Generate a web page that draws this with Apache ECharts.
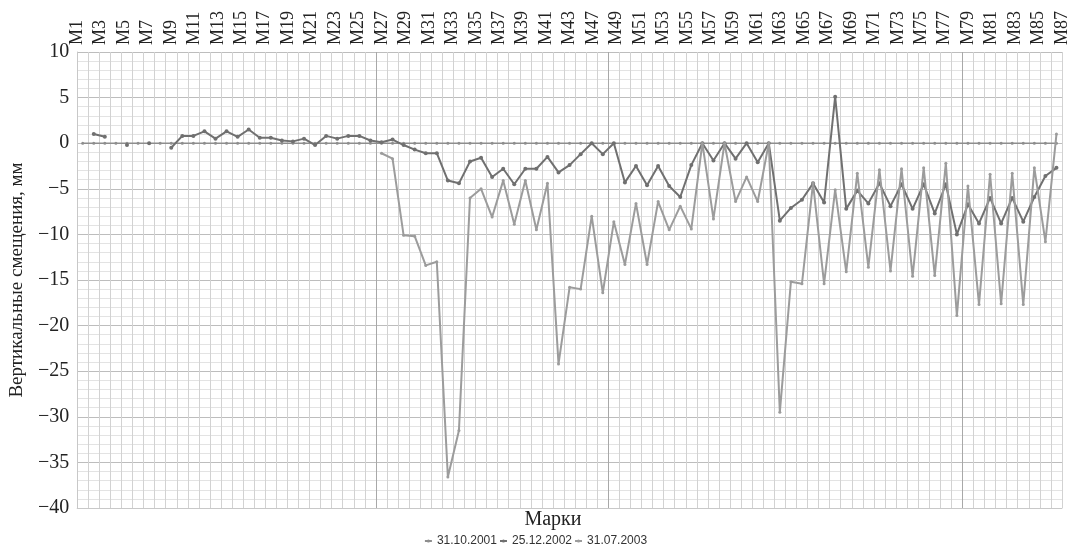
<!DOCTYPE html>
<html>
<head>
<meta charset="utf-8">
<script src="https://cdn.jsdelivr.net/npm/echarts@6/dist/echarts.min.js"></script>
<style>
  html, body { margin: 0; padding: 0; background: #ffffff; }
  #chart { width: 1071px; height: 549px; }
</style>
</head>
<body>
<div id="chart"></div>
<script>
// Mark names printed along the top edge
const tickLabels = [
  'М1','М3','М5','М7','М9','М11','М13','М15','М17','М19','М21','М23','М25','М27',
  'М29','М31','М33','М35','М37','М39','М41','М43','М47','М49','М51','М53','М55',
  'М57','М59','М61','М63','М65','М67','М69','М71','М73','М75','М77','М79','М81',
  'М83','М85','М87'
];

// Measuring points along the profile (sequence numbers)
const pointIds = [
  1,2,3,4,5,6,7,8,9,10,11,12,13,14,15,16,17,18,19,20,21,22,23,24,25,26,27,28,29,30,
  31,32,33,34,35,36,37,38,39,40,41,42,43,44,45,46,47,48,49,50,51,52,53,54,55,56,57,
  58,59,60,61,62,63,64,65,66,67,68,69,70,71,72,73,74,75,76,77,78,79,80,81,82,83,84,
  85,86,87,88,89
];

// Vertical displacements, mm
const s2001 = [
  0,0,0,0,0,0,0,0,0,0,0,0,0,0,0,0,0,0,0,0,0,0,0,0,0,0,0,0,0,0,
  0,0,0,0,0,0,0,0,0,0,0,0,0,0,0,0,0,0,0,0,0,0,0,0,0,0,0,0,0,0,
  0,0,0,0,0,0,0,0,0,0,0,0,0,0,0,0,0,0,0,0,0,0,0,0,0,0,0,0,0
];

const s2002 = [
  null, 1.0, 0.7, null, -0.2, null, 0.0, null, -0.5, 0.8,
  0.8, 1.3, 0.5, 1.3, 0.7, 1.5, 0.6, 0.6, 0.3, 0.2,
  0.5, -0.2, 0.8, 0.5, 0.8, 0.8, 0.3, 0.1, 0.4, -0.2,
  -0.7, -1.1, -1.1, -4.1, -4.4, -2.0, -1.6, -3.7, -2.8, -4.5,
  -2.8, -2.8, -1.5, -3.2, -2.4, -1.2, 0.0, -1.2, 0.0, -4.3,
  -2.5, -4.6, -2.5, -4.7, -5.9, -2.4, 0.0, -1.9, 0.0, -1.7,
  0.0, -2.1, 0.0, -8.5, -7.1, -6.2, -4.4, -6.5, 5.1, -7.2,
  -5.2, -6.6, -4.4, -6.9, -4.5, -7.2, -4.5, -7.7, -4.5, -10.0,
  -6.7, -8.8, -6.0, -8.8, -6.0, -8.6, -5.9, -3.6, -2.7
];

const s2003 = [
  null, null, null, null, null, null, null, null, null, null,
  null, null, null, null, null, null, null, null, null, null,
  null, null, null, null, null, null, null, -1.1, -1.7, -10.1,
  -10.2, -13.4, -13.0, -36.6, -31.5, -6.0, -5.0, -8.1, -4.1, -8.9,
  -4.1, -9.5, -4.4, -24.2, -15.8, -16.0, -8.0, -16.4, -8.6, -13.3,
  -6.6, -13.3, -6.4, -9.5, -6.9, -9.4, 0.0, -8.3, 0.0, -6.4,
  -3.7, -6.4, 0.0, -29.5, -15.2, -15.4, -4.4, -15.4, -5.1, -14.1,
  -3.3, -13.6, -2.9, -14.0, -2.8, -14.6, -2.7, -14.5, -2.2, -18.9,
  -4.7, -17.7, -3.4, -17.6, -3.3, -17.7, -2.7, -10.8, 1.0
];

const seriesNames = ['31.10.2001', '25.12.2002', '31.07.2003'];

// Points after which a darker section line is drawn
const sectionBreaks = [27, 48, 80];

const serif = '"Liberation Serif", "Times New Roman", serif';
const sans = '"Liberation Sans", Arial, sans-serif';

const chart = echarts.init(document.getElementById('chart'), null, { renderer: 'canvas' });

function lineSeries(name, data, color, width, symbolSize, z) {
  return {
    name: name,
    type: 'line',
    xAxisIndex: 1,
    yAxisIndex: 0,
    data: data,
    connectNulls: false,
    showSymbol: true,
    showAllSymbol: true,
    symbol: 'circle',
    symbolSize: symbolSize,
    itemStyle: { color: color },
    lineStyle: { color: color, width: width },
    emphasis: { disabled: true },
    animation: false,
    z: z
  };
}

chart.setOption({
  backgroundColor: '#ffffff',
  animation: false,
  grid: { left: 74, right: 7, top: 52, bottom: 41, containLabel: false },
  legend: {
    bottom: -3,
    left: 'center',
    itemWidth: 7,
    itemHeight: 4,
    itemGap: 2,
    textStyle: { fontFamily: sans, fontSize: 12, color: '#333' },
    data: seriesNames
  },
  xAxis: [
    {
      type: 'category',
      position: 'top',
      data: tickLabels,
      boundaryGap: false,
      axisLine: { show: false },
      axisTick: { show: false },
      splitLine: { show: false },
      axisLabel: {
        interval: 0,
        rotate: 90,
        margin: 7,
        fontFamily: serif,
        fontSize: 18,
        color: '#222'
      }
    },
    {
      type: 'category',
      position: 'bottom',
      data: pointIds,
      boundaryGap: true,
      axisLine: { show: true, lineStyle: { color: '#c8c8c8', width: 1 } },
      axisTick: { show: false },
      axisLabel: { show: false },
      splitLine: { show: true, interval: 0, lineStyle: { color: '#d2d2d2', width: 1 } }
    }
  ],
  yAxis: {
    type: 'value',
    min: -40,
    max: 10,
    interval: 5,
    name: 'Вертикальные смещения, мм',
    nameLocation: 'middle',
    nameGap: 48,
    nameTextStyle: { fontFamily: serif, fontSize: 19, color: '#222' },
    axisLine: { show: true, lineStyle: { color: '#c8c8c8' } },
    axisTick: { show: false },
    axisLabel: {
      margin: 8,
      fontFamily: serif,
      fontSize: 20,
      color: '#222',
      formatter: function (v) { return v < 0 ? '\u2212' + Math.abs(v) : String(v); }
    },
    splitLine: { show: true, lineStyle: { color: '#bdbdbd', width: 1 } },
    minorTick: { show: false, splitNumber: 5 },
    minorSplitLine: { show: true, lineStyle: { color: '#e3e3e3', width: 1 } }
  },
  series: [
    lineSeries(seriesNames[0], s2001, '#8e8e8e', 1.5, 3, 3),
    lineSeries(seriesNames[1], s2002, '#707070', 2, 4, 4),
    lineSeries(seriesNames[2], s2003, '#9c9c9c', 2, 3, 5)
  ]
});

// Axis title under the plot and the darker section lines between point groups
function drawExtras() {
  const yTop = chart.convertToPixel({ yAxisIndex: 0 }, 10);
  const yBottom = chart.convertToPixel({ yAxisIndex: 0 }, -40);
  const elements = sectionBreaks.map(function (k) {
    const a = chart.convertToPixel({ xAxisIndex: 1 }, k - 1);
    const b = chart.convertToPixel({ xAxisIndex: 1 }, k);
    const x = Math.round((a + b) / 2) + 0.5;
    return {
      type: 'line',
      silent: true,
      z: 1,
      shape: { x1: x, y1: yTop, x2: x, y2: yBottom },
      style: { stroke: '#a8a8a8', lineWidth: 1 }
    };
  });
  elements.push({
    type: 'text',
    silent: true,
    x: 553,
    y: 520,
    style: {
      text: 'Марки',
      font: '20px ' + serif,
      fill: '#222',
      textAlign: 'center',
      textVerticalAlign: 'middle'
    }
  });
  chart.setOption({ graphic: elements });
}
drawExtras();
</script>
</body>
</html>
